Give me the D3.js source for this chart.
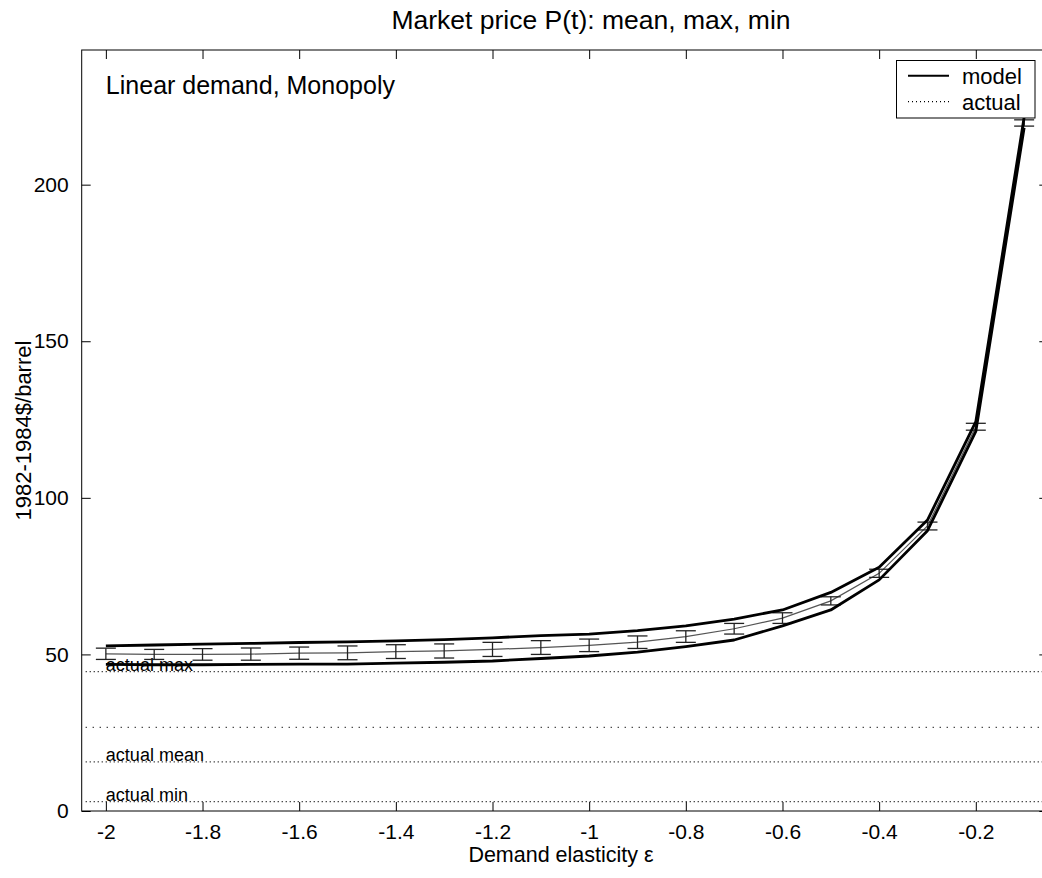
<!DOCTYPE html>
<html>
<head>
<meta charset="utf-8">
<script src="https://cdn.jsdelivr.net/npm/d3@7"></script>
<style>
  body { margin: 0; background: #fff; }
  text { font-family: "Liberation Sans", Arial, Helvetica, sans-serif; fill: #000; }
</style>
</head>
<body>
<svg id="chart" width="1042" height="878"></svg>
<script>
// Demand elasticity values (x)
const elasticity = [-2, -1.9, -1.8, -1.7, -1.6, -1.5, -1.4, -1.3, -1.2, -1.1,
                    -1.0, -0.9, -0.8, -0.7, -0.6, -0.5, -0.4, -0.3, -0.2, -0.1];
// Model price statistics, 1982-1984 $/barrel
const priceMax  = [52.7, 53.0, 53.3, 53.5, 53.8, 54.0, 54.3, 54.7, 55.3, 56.0,
                   56.5, 57.6, 59.1, 61.3, 64.2, 69.8, 77.8, 92.9, 124.3, 221.5];
const priceMean = [50.2, 50.0, 50.0, 50.1, 50.4, 50.5, 50.9, 51.1, 51.6, 52.2,
                   52.9, 53.9, 55.7, 58.2, 61.6, 67.1, 75.9, 91.0, 122.7, 219.7];
const priceStd  = [1.8, 1.6, 1.85, 1.95, 1.95, 2.2, 2.2, 2.25, 2.25, 2.2,
                   2.0, 2.0, 1.85, 1.7, 1.7, 1.3, 1.3, 1.25, 1.1, 1.0];
const priceMin  = [46.8, 46.7, 46.7, 46.8, 46.9, 46.9, 47.2, 47.5, 47.9, 48.7,
                   49.5, 50.7, 52.5, 54.6, 59.1, 64.2, 73.8, 89.5, 121.2, 218.2];
// Observed price levels
const actualLevels = [44.5, 26.7, 15.7, 3.0];
const actualLabels = ["actual max", "", "actual mean", "actual min"];
const actualDash   = ["1,3", "1,6", "1,3", "1,3"];
// Axis ticks
const xTicks = [-2, -1.8, -1.6, -1.4, -1.2, -1, -0.8, -0.6, -0.4, -0.2];
const yTicks = [0, 50, 100, 150, 200];
const legendLabels = ["model", "actual"];

const svg = d3.select("#chart");
const plotLeft = 81.7, plotRight = 1048.3, plotTop = 50, plotBottom = 811;

const x = d3.scaleLinear().domain([-2.05, -0.05]).range([plotLeft, plotRight]);
const y = d3.scaleLinear().domain([0, 243]).range([plotBottom, plotTop]);

const font = '"Liberation Sans", Arial, sans-serif';

// Title
svg.append("text")
  .attr("x", 591).attr("y", 29)
  .attr("text-anchor", "middle")
  .style("font-size", "26.5px")
  .text("Market price P(t): mean, max, min");

// Plot frame
svg.append("rect")
  .attr("x", plotLeft).attr("y", plotTop)
  .attr("width", plotRight - plotLeft).attr("height", plotBottom - plotTop)
  .attr("fill", "none").attr("stroke", "#000").attr("stroke-width", 1);

// Inward ticks on all four sides via d3 axes
const tickLen = 9;
const plain = d => String(d);
svg.append("g").attr("transform", `translate(0,${plotBottom})`)
  .call(d3.axisBottom(x).tickValues(xTicks).tickSizeInner(-tickLen).tickSizeOuter(0)
        .tickPadding(13).tickFormat(plain))
  .call(g => g.select(".domain").remove())
  .call(g => g.selectAll("text").style("font-size", "21px").style("font-family", font).attr("fill", "#000"));
svg.append("g").attr("transform", `translate(0,${plotTop})`)
  .call(d3.axisTop(x).tickValues(xTicks).tickSizeInner(-tickLen).tickSizeOuter(0).tickFormat(""))
  .call(g => g.select(".domain").remove());
svg.append("g").attr("transform", `translate(${plotLeft},0)`)
  .call(d3.axisLeft(y).tickValues(yTicks).tickSizeInner(-tickLen).tickSizeOuter(0)
        .tickPadding(13).tickFormat(plain))
  .call(g => g.select(".domain").remove())
  .call(g => g.selectAll("text").style("font-size", "21px").style("font-family", font).attr("fill", "#000"));
svg.append("g").attr("transform", `translate(${plotRight},0)`)
  .call(d3.axisRight(y).tickValues(yTicks).tickSizeInner(-tickLen).tickSizeOuter(0).tickFormat(""))
  .call(g => g.select(".domain").remove());
svg.selectAll(".tick line").attr("stroke", "#000");

// Axis labels
svg.append("text")
  .attr("x", 561).attr("y", 862)
  .attr("text-anchor", "middle")
  .style("font-size", "21.5px")
  .text("Demand elasticity ε");
svg.append("text")
  .attr("transform", `translate(31,${(plotTop + plotBottom) / 2}) rotate(-90)`)
  .attr("text-anchor", "middle")
  .style("font-size", "22px")
  .text("1982-1984$/barrel");

// Annotation
svg.append("text")
  .attr("x", x(-2)).attr("y", 94)
  .style("font-size", "25px")
  .text("Linear demand, Monopoly");

// Actual price levels (dotted)
const actual = svg.append("g");
actualLevels.forEach((v, i) => {
  actual.append("line")
    .attr("x1", plotLeft + 4).attr("x2", plotRight)
    .attr("y1", y(v)).attr("y2", y(v))
    .attr("stroke", "#000").attr("stroke-width", 1.2)
    .attr("stroke-dasharray", actualDash[i]);
  if (actualLabels[i]) {
    actual.append("text")
      .attr("x", x(-2)).attr("y", y(v) - 0.5)
      .style("font-size", "18px")
      .text(actualLabels[i]);
  }
});

const pts = elasticity.map((e, i) => ({
  e, max: priceMax[i], mean: priceMean[i], sd: priceStd[i], min: priceMin[i]
}));

// Mean line with error bars
svg.append("path")
  .datum(pts)
  .attr("fill", "none").attr("stroke", "#555").attr("stroke-width", 1.2)
  .attr("d", d3.line().x(d => x(d.e)).y(d => y(d.mean)));

const bars = svg.append("g").attr("stroke", "#222").attr("stroke-width", 1.3);
pts.forEach(d => {
  const xc = x(d.e), hi = y(d.mean + d.sd), lo = y(d.mean - d.sd);
  bars.append("line").attr("x1", xc).attr("x2", xc).attr("y1", hi).attr("y2", lo);
  bars.append("line").attr("x1", xc - 10).attr("x2", xc + 10).attr("y1", hi).attr("y2", hi);
  bars.append("line").attr("x1", xc - 10).attr("x2", xc + 10).attr("y1", lo).attr("y2", lo);
});

// Model max and min (thick)
["max", "min"].forEach(k => {
  svg.append("path")
    .datum(pts)
    .attr("fill", "none").attr("stroke", "#000").attr("stroke-width", 2.8)
    .attr("stroke-linejoin", "round")
    .attr("d", d3.line().x(d => x(d.e)).y(d => y(d[k])));
});

// Legend
const lg = svg.append("g");
lg.append("rect")
  .attr("x", 896.5).attr("y", 60.5).attr("width", 138.5).attr("height", 57.5)
  .attr("fill", "#fff").attr("stroke", "#000").attr("stroke-width", 1);
legendLabels.forEach((lab, i) => {
  const ly = 75.7 + i * 26;
  lg.append("line")
    .attr("x1", 908).attr("x2", 949).attr("y1", ly).attr("y2", ly)
    .attr("stroke", "#000")
    .attr("stroke-width", i === 0 ? 2 : 1.2)
    .attr("stroke-dasharray", i === 0 ? null : "1,3");
  lg.append("text")
    .attr("x", 962).attr("y", ly + 8)
    .style("font-size", "22px")
    .text(lab);
});
</script>
</body>
</html>
